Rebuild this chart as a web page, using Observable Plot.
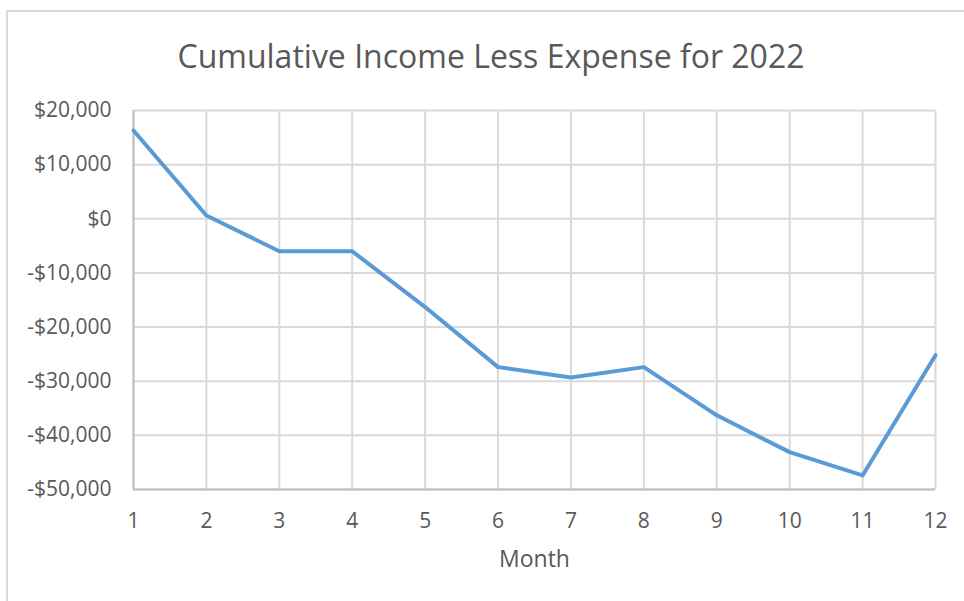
<!DOCTYPE html>
<html>
<head>
<meta charset="utf-8">
<script src="https://cdn.jsdelivr.net/npm/d3@7"></script>
<script src="https://cdn.jsdelivr.net/npm/@observablehq/plot@0.6"></script>
<style>
  html, body { margin: 0; padding: 0; background: #fff; }
  #wrap { position: relative; width: 964px; height: 601px; overflow: hidden; font-family: "Open Sans", sans-serif; }
  #frame { position: absolute; left: 6px; top: 10px; width: 1200px; height: 900px; border-left: 2px solid #d9d9d9; border-top: 2px solid #d9d9d9; }
  #title { position: absolute; left: 0; top: 40px; width: 964px; text-align: center; font-size: 32px; line-height: 32px; color: #595959; padding-left: 18px; box-sizing: border-box; }
  #chart { position: absolute; left: 0; top: 90px; }
</style>
</head>
<body>
<div id="wrap">
  <div id="frame"></div>
  <div id="title">Cumulative Income Less Expense for 2022</div>
  <div id="chart"></div>
</div>
<script>
const titleText = "Cumulative Income Less Expense for 2022";
const xLabel = "Month";
const months = [1, 2, 3, 4, 5, 6, 7, 8, 9, 10, 11, 12];
const cumulative = [16300, 600, -6000, -6000, -16300, -27400, -29300, -27400, -36300, -43100, -47400, -25200];
const yTicks = [20000, 10000, 0, -10000, -20000, -30000, -40000, -50000];

const fmt = d3.format(",");
const money = d => (d < 0 ? "-$" : "$") + fmt(Math.abs(d));

const data = months.map((m, i) => ({month: m, value: cumulative[i]}));

const chart = Plot.plot({
  width: 964,
  height: 511,
  marginTop: 20,
  marginBottom: 112,
  marginLeft: 133,
  marginRight: 29,
  style: {fontFamily: "'Open Sans', sans-serif", fontSize: "21px", color: "#595959", background: "transparent"},
  x: {domain: [1, 12], ticks: months},
  y: {domain: [-50000, 20000], ticks: yTicks},
  marks: [
    Plot.gridX(months, {stroke: "#d9d9d9", strokeOpacity: 1, strokeWidth: 2}),
    Plot.gridY(yTicks, {stroke: "#d9d9d9", strokeOpacity: 1, strokeWidth: 2}),
    Plot.ruleX([1], {stroke: "#bfbfbf", strokeWidth: 2}),
    Plot.ruleY([-50000], {stroke: "#bfbfbf", strokeWidth: 2}),
    Plot.axisY(yTicks, {tickSize: 0, tickPadding: 22, tickFormat: money, label: null, fontSize: 21}),
    Plot.axisX(months, {tickSize: 0, tickPadding: 24, tickFormat: d => String(d), label: null, fontSize: 21}),
    Plot.text([xLabel], {frameAnchor: "bottom", dy: 77, text: d => d, fontSize: 23, fill: "#595959"}),
    Plot.lineY(data, {x: "month", y: "value", stroke: "#5b9bd5", strokeWidth: 4, strokeLinejoin: "round"})
  ]
});
document.getElementById("chart").appendChild(chart);
document.getElementById("title").textContent = titleText;
</script>
</body>
</html>
